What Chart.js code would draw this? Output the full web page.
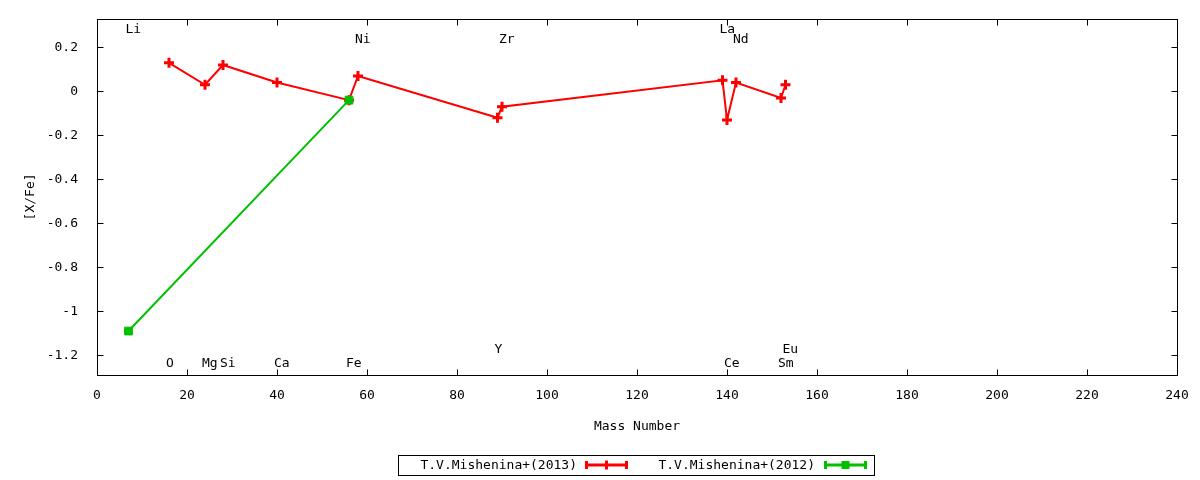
<!DOCTYPE html>
<html>
<head>
<meta charset="utf-8">
<title>[X/Fe] vs Mass Number</title>
<script src="https://cdn.jsdelivr.net/npm/chart.js@4/dist/chart.umd.min.js"></script>
<style>
  body { margin: 0; background: #fff; }
  #wrap { width: 1200px; height: 480px; }
</style>
</head>
<body>
<div id="wrap"><canvas id="chart" width="1200" height="480"></canvas></div>
<script>
// ---------------- data ----------------
const series2013Label = "T.V.Mishenina+(2013)";
const series2013Mass = [16, 24, 28, 40, 56, 58, 89, 90, 139, 140, 142, 152, 153];
const series2013XFe = [0.13, 0.03, 0.12, 0.04, -0.04, 0.07, -0.12, -0.07, 0.05, -0.13, 0.04, -0.03, 0.03];

const series2012Label = "T.V.Mishenina+(2012)";
const series2012Mass = [7, 56];
const series2012XFe = [-1.09, -0.04];

// element name labels (x = mass number, y = [X/Fe] level where the name sits)
const elemNames = ["Li", "O", "Mg", "Si", "Ca", "Fe", "Ni", "Y", "Zr", "La", "Ce", "Nd", "Sm", "Eu"];
const elemMass = [7, 16, 24, 28, 40, 56, 58, 89, 90, 139, 140, 142, 152, 153];
const elemLabelY = [0.28, -1.236, -1.236, -1.236, -1.236, -1.236, 0.235, -1.173, 0.235, 0.28, -1.236, 0.235, -1.236, -1.173];

const xTicks = [0, 20, 40, 60, 80, 100, 120, 140, 160, 180, 200, 220, 240];
const yTicks = [0.2, 0, -0.2, -0.4, -0.6, -0.8, -1, -1.2];

const FONT = "13px 'DejaVu Sans Mono', monospace";
const RED = "#ff0000";
const GREEN = "#00c000";

function toPoints(xs, ys) {
  return xs.map((x, i) => ({ x: x, y: ys[i] }));
}

// draws the gnuplot-like frame, inward ticks, element names, titles and legend
const gnuplotDecor = {
  id: "gnuplotDecor",
  afterDraw(chart) {
    const ctx = chart.ctx;
    const area = chart.chartArea;
    const xs = chart.scales.x;
    const ys = chart.scales.y;
    const L = Math.round(area.left) + 0.5;
    const R = Math.round(area.right) + 0.5;
    const T = Math.round(area.top) + 0.5;
    const B = Math.round(area.bottom) + 0.5;

    ctx.save();
    ctx.strokeStyle = "#000";
    ctx.lineWidth = 1;
    ctx.strokeRect(L, T, R - L, B - T);

    // inward ticks on all four sides
    ctx.beginPath();
    xTicks.forEach((v) => {
      const px = Math.round(xs.getPixelForValue(v)) + 0.5;
      ctx.moveTo(px, B); ctx.lineTo(px, B - 6);
      ctx.moveTo(px, T); ctx.lineTo(px, T + 6);
    });
    yTicks.forEach((v) => {
      const py = Math.round(ys.getPixelForValue(v)) + 0.5;
      ctx.moveTo(L, py); ctx.lineTo(L + 6, py);
      ctx.moveTo(R, py); ctx.lineTo(R - 6, py);
    });
    ctx.stroke();

    // element names
    ctx.fillStyle = "#000";
    ctx.font = FONT;
    ctx.textAlign = "left";
    ctx.textBaseline = "middle";
    elemNames.forEach((name, i) => {
      ctx.fillText(name, xs.getPixelForValue(elemMass[i]) - 3, ys.getPixelForValue(elemLabelY[i]));
    });

    // axis titles
    ctx.textAlign = "center";
    ctx.fillText("Mass Number", (area.left + area.right) / 2, area.bottom + 52);
    ctx.save();
    ctx.translate(31, (area.top + area.bottom) / 2);
    ctx.rotate(-Math.PI / 2);
    ctx.fillText("[X/Fe]", 0, 0);
    ctx.restore();

    // legend box
    const boxL = 398.5, boxR = 874.5, boxT = 455.5, boxB = 475.5;
    const midY = 466;
    ctx.strokeRect(boxL, boxT, boxR - boxL, boxB - boxT);
    const entries = [
      { label: series2013Label, color: RED, textEnd: 577, s0: 585, s1: 628, marker: "plus" },
      { label: series2012Label, color: GREEN, textEnd: 815, s0: 824, s1: 867, marker: "square" }
    ];
    entries.forEach((e) => {
      ctx.fillStyle = "#000";
      ctx.textAlign = "right";
      ctx.fillText(e.label, e.textEnd, midY);
      ctx.strokeStyle = e.color;
      ctx.fillStyle = e.color;
      ctx.lineWidth = 3;
      ctx.beginPath();
      ctx.moveTo(e.s0, midY - 1); ctx.lineTo(e.s1, midY - 1);
      ctx.moveTo(e.s0 + 1.5, midY - 5); ctx.lineTo(e.s0 + 1.5, midY + 3);
      ctx.moveTo(e.s1 - 1.5, midY - 5); ctx.lineTo(e.s1 - 1.5, midY + 3);
      ctx.stroke();
      const mx = (e.s0 + e.s1) / 2;
      if (e.marker === "plus") {
        ctx.beginPath();
        ctx.moveTo(mx, midY - 5.5); ctx.lineTo(mx, midY + 3.5);
        ctx.stroke();
      } else {
        ctx.fillRect(mx - 4, midY - 5, 8, 8);
      }
    });
    ctx.restore();
  }
};

new Chart(document.getElementById("chart"), {
  type: "line",
  data: {
    datasets: [
      {
        label: series2013Label,
        data: toPoints(series2013Mass, series2013XFe),
        borderColor: RED,
        backgroundColor: RED,
        borderWidth: 2,
        pointStyle: "cross",
        pointRadius: 5,
        pointBorderWidth: 3,
        tension: 0,
        order: 2
      },
      {
        label: series2012Label,
        data: toPoints(series2012Mass, series2012XFe),
        borderColor: GREEN,
        backgroundColor: GREEN,
        borderWidth: 2,
        pointStyle: "rect",
        pointRadius: 5.5,
        pointBorderWidth: 1,
        tension: 0,
        order: 1
      }
    ]
  },
  options: {
    responsive: false,
    animation: false,
    devicePixelRatio: 1,
    layout: { padding: { top: 15, right: 23, left: 0, bottom: 0 } },
    plugins: {
      legend: { display: false },
      tooltip: { enabled: false }
    },
    scales: {
      x: {
        type: "linear",
        min: 0,
        max: 240,
        grid: { display: false },
        border: { display: false },
        afterBuildTicks: (scale) => { scale.ticks = xTicks.map((v) => ({ value: v })); },
        afterFit: (scale) => { scale.height = 105; },
        ticks: {
          color: "#000",
          font: { family: "'DejaVu Sans Mono', monospace", size: 13 },
          padding: 5,
          maxRotation: 0,
          autoSkip: false
        }
      },
      y: {
        type: "linear",
        min: -1.29,
        max: 0.33,
        grid: { display: false },
        border: { display: false },
        afterBuildTicks: (scale) => { scale.ticks = yTicks.map((v) => ({ value: v })); },
        afterFit: (scale) => { scale.width = 97; },
        ticks: {
          color: "#000",
          font: { family: "'DejaVu Sans Mono', monospace", size: 13 },
          padding: 11,
          autoSkip: false,
          callback: (v) => String(Number(Number(v).toFixed(1)))
        }
      }
    }
  },
  plugins: [gnuplotDecor]
});
</script>
</body>
</html>
